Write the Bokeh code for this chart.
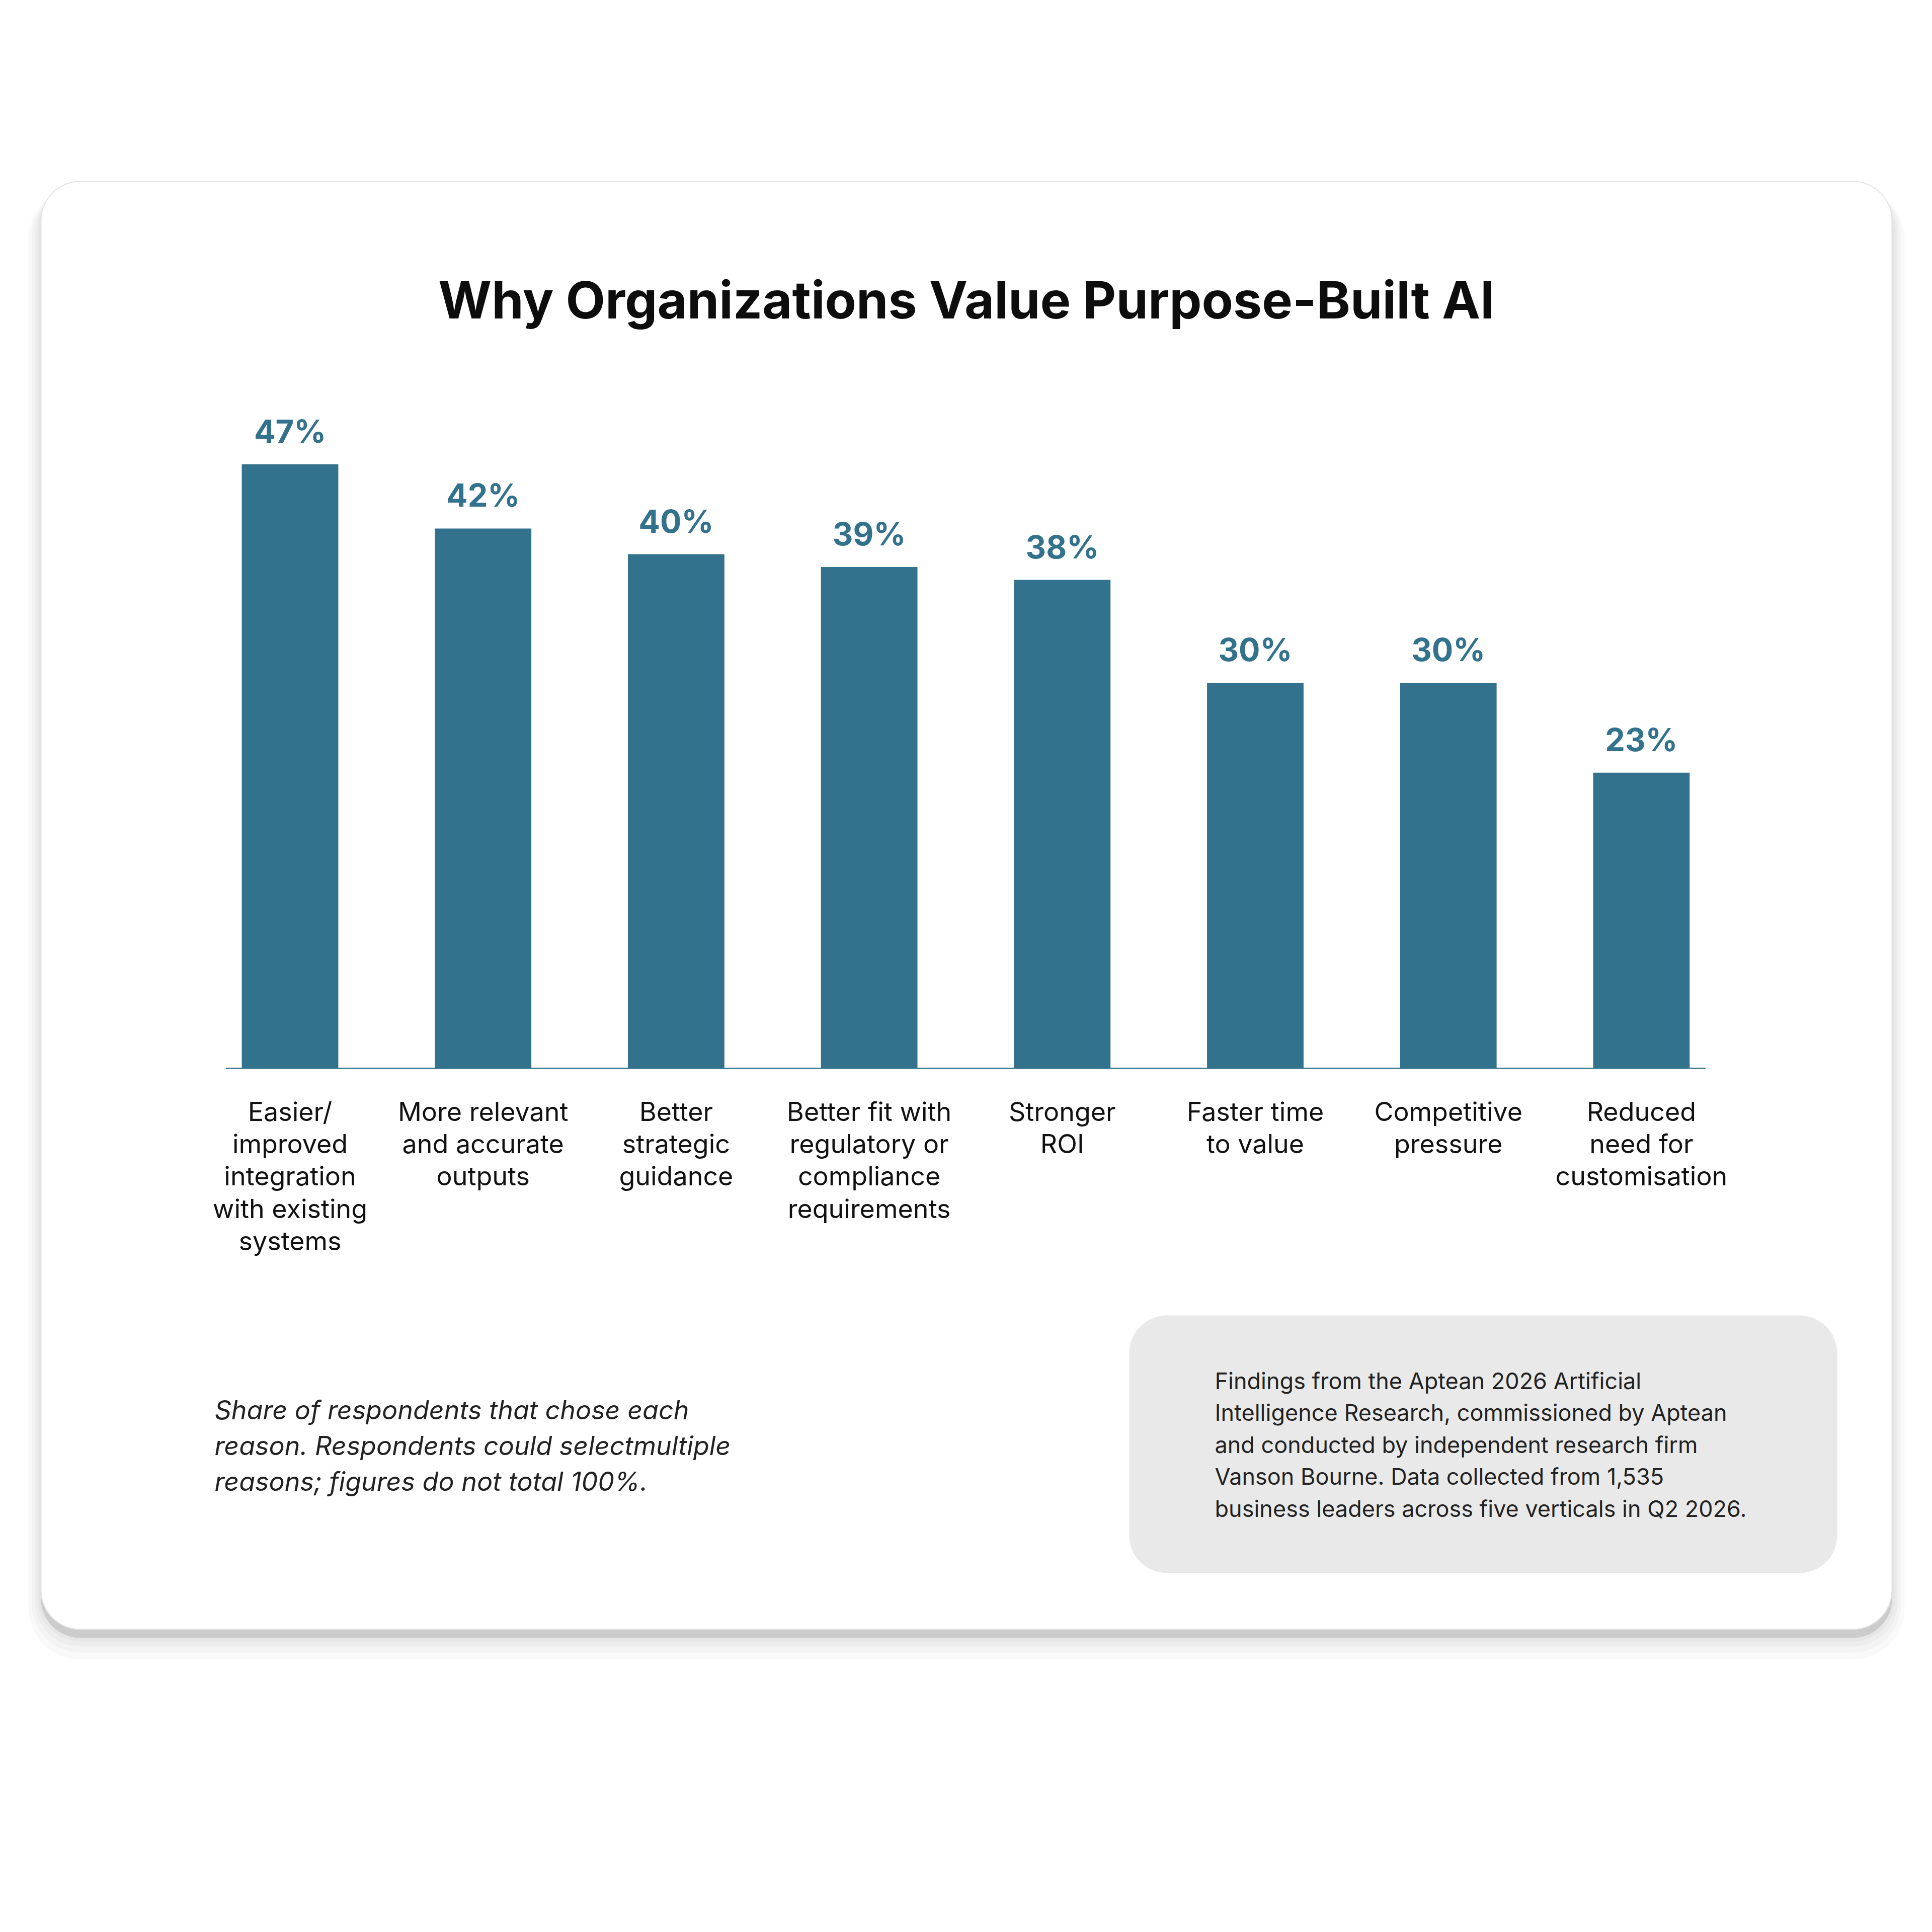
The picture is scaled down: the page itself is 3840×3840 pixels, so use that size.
from bokeh.plotting import figure
from bokeh.models import Range1d, ColumnDataSource
from bokeh.core.properties import value
from bokeh.embed import file_html
from bokeh.resources import INLINE

# ---------------- data ----------------
categories = [
    "Easier/\nimproved\nintegration\nwith existing\nsystems",
    "More relevant\nand accurate\noutputs",
    "Better\nstrategic\nguidance",
    "Better fit with\nregulatory or\ncompliance\nrequirements",
    "Stronger\nROI",
    "Faster time\nto value",
    "Competitive\npressure",
    "Reduced\nneed for\ncustomisation",
]
values = [47, 42, 40, 39, 38, 30, 30, 23]
value_labels = ["47%", "42%", "40%", "39%", "38%", "30%", "30%", "23%"]
title_text = "Why Organizations Value Purpose-Built AI"
footnote_text = ("Share of respondents that chose each\n"
                 "reason. Respondents could selectmultiple\n"
                 "reasons; figures do not total 100%.")
source_text = ("Findings from the Aptean 2026 Artificial\n"
               "Intelligence Research, commissioned by Aptean\n"
               "and conducted by independent research firm\n"
               "Vanson Bourne. Data collected from 1,535\n"
               "business leaders across five verticals in Q2 2026.")

# ---------------- layout (pixel coordinates of the picture) ----------------
W = H = 3824
P0, P1 = 0, W
BAR_X0, BAR_DX = 576.0, 383.7  # x of first bar centre, spacing
BASE_Y, PX_PER_UNIT = 2123.0, 25.55
BAR_COLOR = "#33728c"
FONT = "Inter"

p = figure(width=W, height=H, output_backend="svg", toolbar_location=None,
           x_range=Range1d(P0, P1), y_range=Range1d(P1, P0),
           x_axis_location=None, y_axis_location=None, min_border=0)
p.grid.visible = False
p.outline_line_color = None
p.background_fill_color = "white"
p.border_fill_color = "white"

p.extra_x_ranges = {"bx": Range1d((P0 - BAR_X0) / BAR_DX, (P1 - BAR_X0) / BAR_DX)}
p.extra_y_ranges = {"by": Range1d((BASE_Y - P1) / PX_PER_UNIT, (BASE_Y - P0) / PX_PER_UNIT)}

# ---------------- card with shadow ----------------
CL, CR, CT, CB, RAD = 81, 3760, 360, 3238, 78
for s in [6, 14, 24, 36, 50]:
    p.quad(left=CL - s * 0.5, right=CR + s * 0.5, top=CT + 12, bottom=CB + 10 + s,
           fill_color="black", fill_alpha=0.022, line_color=None,
           border_radius=int(RAD + s * 0.5))
p.quad(left=CL, right=CR, top=CT + 60, bottom=CB + 17,
       fill_color="#cccccc", line_color=None, border_radius=RAD)
p.quad(left=CL, right=CR, top=CT, bottom=CB, fill_color="white",
       line_color="#e4e4e4", line_width=2, border_radius=RAD)

# ---------------- title ----------------
p.text(x=[(CL + CR) / 2], y=[595], text=[title_text], text_align="center",
       text_baseline="alphabetic", text_font=value(FONT), text_font_style="bold",
       text_font_size="102px", text_color="#0d0d0d")

# ---------------- bars ----------------
idx = list(range(len(values)))
src = ColumnDataSource(dict(
    x=idx, top=values, lab=value_labels, cat=categories,
    ylab=[v + 66 / PX_PER_UNIT for v in values],
))
p.vbar(x="x", top="top", bottom=0, width=0.5, source=src,
       fill_color=BAR_COLOR, line_color=None,
       x_range_name="bx", y_range_name="by")
p.segment(x0=[-0.333], x1=[len(values) - 1 + 0.333], y0=[0], y1=[0],
          line_color="#457d94", line_width=3,
          x_range_name="bx", y_range_name="by")
p.text(x="x", y="ylab", text="lab", source=src, text_align="center",
       text_baseline="alphabetic", text_font=value(FONT), text_font_style="bold",
       text_font_size="63px", text_color=BAR_COLOR,
       x_range_name="bx", y_range_name="by")
p.text(x="x", y=2177, text="cat", source=src, text_align="center",
       text_baseline="top", text_font=value(FONT), text_font_size="52px",
       text_line_height=1.022, text_color="#111111", x_range_name="bx")

# ---------------- footnote ----------------
p.text(x=[426], y=[2770], text=[footnote_text], text_align="left",
       text_baseline="top", text_font=value(FONT), text_font_style="italic",
       text_font_size="52px", text_line_height=1.13, text_color="#222222")

# ---------------- source box ----------------
p.quad(left=2244, right=3651, top=2614, bottom=3126, fill_color="#e9e9e9",
       line_color=None, border_radius=75)
p.text(x=[2414], y=[2716], text=[source_text], text_align="left",
       text_baseline="top", text_font=value(FONT), text_font_size="45px",
       text_line_height=1.157, text_color="#222222")

open("out.html", "w").write(file_html(p, INLINE))
